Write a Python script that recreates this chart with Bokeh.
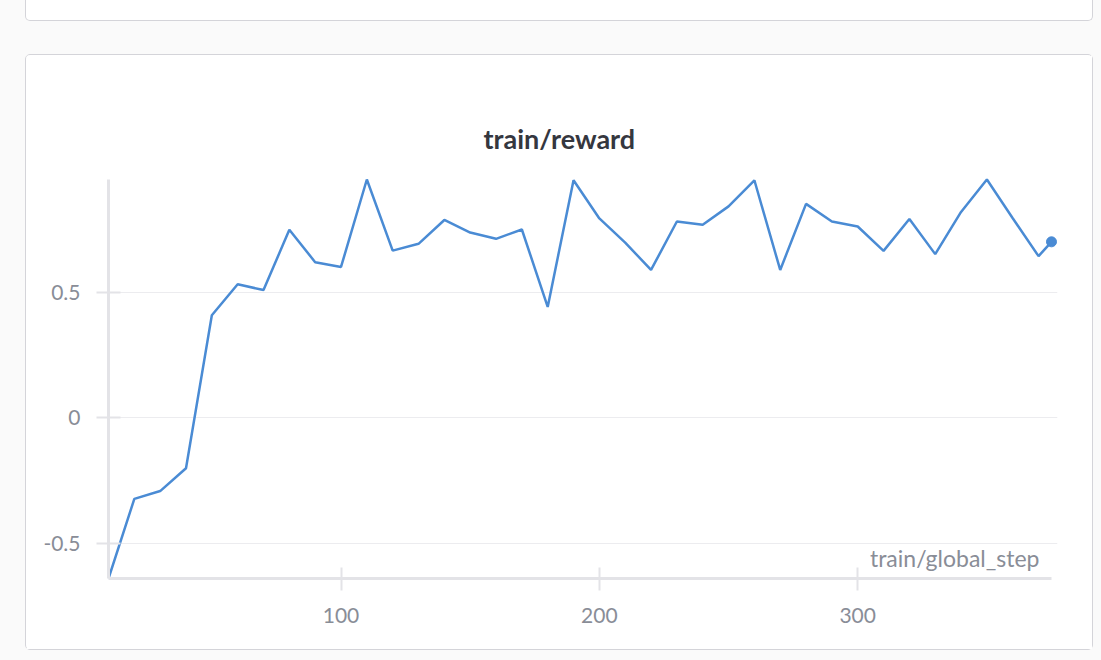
from bokeh.plotting import figure
from bokeh.models import Range1d, FixedTicker, Label, Div, Title
from bokeh.layouts import column
from bokeh.embed import file_html
from bokeh.resources import INLINE

# ---- data ----
steps = [10, 20, 30, 40, 50, 60, 70, 80, 90, 100, 110, 120, 130, 140, 150, 160,
         170, 180, 190, 200, 210, 220, 230, 240, 250, 260, 270, 280, 290, 300,
         310, 320, 330, 340, 350, 360, 370, 375]
reward = [-0.64, -0.323, -0.292, -0.201, 0.408, 0.531, 0.508, 0.748, 0.619, 0.600,
          0.948, 0.665, 0.692, 0.787, 0.737, 0.712, 0.749, 0.441, 0.945, 0.793,
          0.697, 0.588, 0.781, 0.768, 0.841, 0.945, 0.588, 0.851, 0.781, 0.761,
          0.664, 0.791, 0.651, 0.819, 0.948, 0.794, 0.643, 0.700]
x_ticks = [100, 200, 300]
y_ticks = [-0.5, 0, 0.5]
y_tick_labels = ["-0.5", "0", "0.5"]
title_text = "train/reward"
x_label_text = "train/global_step"

FONT = "Lato"
LINE = "#4a8bd4"
AXIS = "#e3e3e7"
GRID = "#ececef"
TICK_TXT = "#898d97"
CARD_BORDER = "1.5px solid #d4d4d9"

# layout in pixels (plot area inside the card)
CARD_W, CARD_H = 1066, 594
PLOT_W, PLOT_H = 941, 397   # pixel span of the data in x and y
PAD_R, PAD_T = 6, 2         # extra room so end marker / peaks are not clipped
MB_L, MB_B = 82, 73
XLABEL_LIFT = 20            # px between x axis and the x label anchor

xmin, xmax = min(steps), max(steps)
ymin, ymax = min(reward), max(reward)
x_per_px = (xmax - xmin) / PLOT_W
y_per_px = (ymax - ymin) / PLOT_H

p = figure(width=CARD_W, height=CARD_H, output_backend="svg", toolbar_location=None,
           x_range=Range1d(xmin, xmax + PAD_R * x_per_px),
           y_range=Range1d(ymin, ymax + PAD_T * y_per_px),
           min_border_left=MB_L, min_border_right=CARD_W - MB_L - PLOT_W - PAD_R,
           min_border_top=CARD_H - MB_B - PLOT_H - PAD_T, min_border_bottom=MB_B,
           border_fill_color="white", background_fill_color="white",
           outline_line_color=None,
           margin=(33, 0, 0, 25),
           styles={"border": CARD_BORDER, "border-radius": "5px",
                   "box-sizing": "content-box", "background-color": "white"})

# title
p.title = Title(text=title_text, align="left", offset=375, standoff=46,
                text_font=FONT, text_font_style="bold", text_font_size="27px",
                text_color="#35373f")

# grid
p.xgrid.visible = False
p.ygrid.ticker = FixedTicker(ticks=y_ticks)
p.ygrid.grid_line_color = GRID
p.ygrid.grid_line_width = 1

# axes
for ax in (p.xaxis[0], p.yaxis[0]):
    ax.axis_line_color = AXIS
    ax.axis_line_width = 3
    ax.major_tick_line_color = AXIS
    ax.major_tick_line_width = 2
    ax.minor_tick_line_color = None
    ax.major_label_text_font = FONT
    ax.major_label_text_font_size = "21px"
    ax.major_label_text_color = TICK_TXT

p.xaxis.ticker = FixedTicker(ticks=x_ticks)
p.xaxis.bounds = (xmin, xmax)
p.xaxis.major_tick_in = 11
p.xaxis.major_tick_out = 12
p.xaxis.major_label_standoff = 17

p.yaxis.ticker = FixedTicker(ticks=y_ticks)
p.yaxis.bounds = (ymin, ymax)
p.yaxis.major_label_overrides = dict(zip(y_ticks, y_tick_labels))
p.yaxis.major_tick_in = 12
p.yaxis.major_tick_out = 12
p.yaxis.major_label_standoff = 16

# series
p.line(steps, reward, line_color=LINE, line_width=2.5)
p.scatter([steps[-1]], [reward[-1]], size=10, fill_color=LINE, line_color=LINE)

# x axis label (inside the plot, bottom-right)
p.add_layout(Label(x=xmax, y=ymin + XLABEL_LIFT * y_per_px, x_offset=-12,
                   text=x_label_text, text_align="right", text_baseline="alphabetic",
                   text_font=FONT, text_font_size="23px", text_color=TICK_TXT))

# bottom edge of the card above
top_card = Div(text="", width=CARD_W, height=20, margin=(0, 0, 0, 25),
               styles={"background-color": "white", "border": CARD_BORDER,
                       "border-top": "none", "border-radius": "0 0 5px 5px",
                       "box-sizing": "content-box"})

page = column(top_card, p, width=1101, height=660,
              styles={"background-color": "#fafafa"})

open("out.html", "w").write(file_html(page, INLINE))
